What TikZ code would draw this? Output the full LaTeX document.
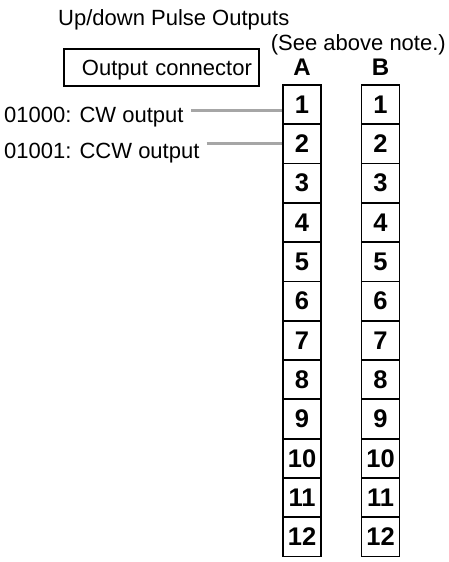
\documentclass[tikz,border=0pt]{standalone}
\usepackage{fontspec}
\setmainfont{Liberation Sans}
\usetikzlibrary{positioning}

\begin{document}
\begin{tikzpicture}[x=1pt,y=-1pt,
	txt/.style={font=\fontsize{22}{25}\selectfont, inner sep=0pt},
	pincell/.style={draw, line width=1.8pt, minimum width=38pt, minimum height=39.3pt, inner sep=0pt, font=\fontsize{25.5}{27}\selectfont\bfseries},
	leader/.style={gray!70, line width=3pt}]
	\useasboundingbox (0,0) rectangle (448,562);
	\node [txt, anchor=base west] (title) at (58,25) {Up/down Pulse Outputs};
	\node [txt, anchor=base east] (note) at (446,50) {(See above note.)};
	\node [txt, draw, line width=1.8pt, anchor=north west, minimum width=195pt, minimum height=37pt, inner xsep=7pt, text width=181pt, align=right, text height=21pt, text depth=4pt] (conn) at (63,48) {Output connector};
	\node [txt, font=\fontsize{24}{26}\selectfont\bfseries, anchor=base] (colA) at (302,75) {A};
	\node [txt, font=\fontsize{24}{26}\selectfont\bfseries, anchor=base] (colB) at (380.5,75) {B};
	% pin columns
	\foreach \n in {1,...,12} {
		\node [pincell, anchor=north] (a\n) at (302,{84+39.3*(\n-1)}) {\n};
		\node [pincell, anchor=north] (b\n) at (380.5,{84+39.3*(\n-1)}) {\n};
	}
	\node [txt, anchor=base west] (cw) at (4,122) {01000: CW output};
	\node [txt, anchor=base west] (ccw) at (4,158) {01001: CCW output};
	\coordinate (cwtip) at ([yshift=-6.3pt]a1.west);
	\draw [leader] ([xshift=7pt]cw.east |- cwtip) -- (cwtip);
	\draw [leader] ([xshift=7pt]ccw.east |- a2.west) -- (a2.west);
\end{tikzpicture}
\end{document}
